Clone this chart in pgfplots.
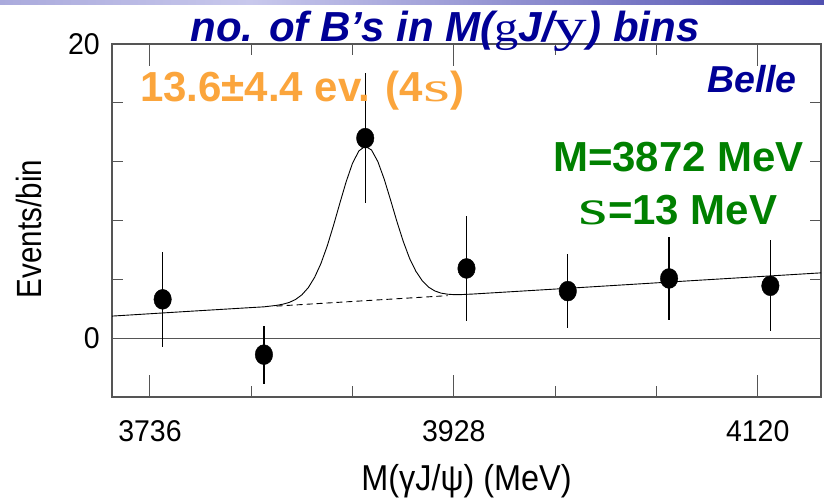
\documentclass[border=0pt]{standalone}
\usepackage{pgfplots}
\pgfplotsset{compat=1.18}
\usepackage{pgfplotstable}
\usepackage{graphicx}
\usepackage{fontspec}
\setmainfont{Liberation Sans}
\newfontfamily\ticksfont{Liberation Sans}[FakeStretch=0.95]
\newfontfamily\xlabfont{Liberation Sans}[FakeStretch=0.9]
\newfontfamily\ylabfont{Liberation Sans}[FakeStretch=0.845]
\newfontfamily\serifsym{Liberation Serif}
\definecolor{navy}{RGB}{0,0,150}
\definecolor{orangeann}{RGB}{251,165,60}
\definecolor{greenann}{RGB}{0,128,0}
\definecolor{axisgray}{RGB}{85,85,85}
\definecolor{barA}{RGB}{170,170,220}
\definecolor{barB}{RGB}{200,200,236}
\definecolor{barC}{RGB}{80,80,176}

% bin centres, events per bin, error
\pgfplotstableread{
x y err
3744 2.64 3.23
3808 -1.12 1.98
3872 13.60 4.40
3936 4.74 3.55
4000 3.20 2.52
4064 4.06 2.82
4128 3.56 3.10
}\points

% fit: background + signal
\pgfplotstableread{
x y
3712 1.50
3760 1.82
3800 2.08
3808 2.13
3812 2.18
3816 2.23
3820 2.31
3824 2.43
3828 2.63
3832 2.95
3836 3.43
3840 4.13
3844 5.07
3848 6.27
3852 7.68
3856 9.19
3860 10.65
3864 11.90
3868 12.73
3872 13.05
3876 12.79
3880 12.00
3884 10.81
3888 9.40
3892 7.94
3896 6.59
3900 5.43
3904 4.55
3908 3.91
3912 3.47
3916 3.21
3920 3.06
3924 2.99
3928 2.96
3932 2.96
3940 3.00
4000 3.39
4080 3.92
4160 4.44
}\fitcurve

% background under the peak
\pgfplotstableread{
x y
3816 2.18
3924 2.89
}\bgline

\begin{document}
\begin{tikzpicture}
\useasboundingbox (0,0) rectangle (824pt,500pt);
\fill[white] (0,0) rectangle (824pt,500pt);
\shade[left color=barA, right color=barB] (0,495pt) rectangle (250pt,500pt);
\shade[left color=barB, right color=barC] (250pt,495pt) rectangle (824pt,500pt);
\begin{axis}[
  at={(112pt,103pt)}, anchor=south west,
  scale only axis, width=709pt, height=353pt,
  xmin=3712, xmax=4160, ymin=-4, ymax=20,
  xtick={3736,3928,4120}, minor xtick={3800,3864,3992,4056},
  ytick={0,20}, minor ytick={4,8,12,16},
  ymajorgrids,
  major grid style={draw=axisgray, line width=1.3pt},
  tick align=inside,
  major tick length=22pt, minor tick length=11pt,
  tick style={draw=axisgray, line width=1pt},
  minor tick style={draw=axisgray, line width=1pt},
  axis line style={draw=axisgray, line width=1.3pt},
  /pgf/number format/assume math mode=true,
  /pgf/number format/set thousands separator={},
  ticklabel style={font=\ticksfont\fontsize{30}{31}\selectfont, text=black},
  xticklabel style={anchor=north, inner sep=0pt, yshift=-23pt},
  yticklabel style={anchor=east, inner sep=0pt, xshift=-12pt},
  xlabel={M(γJ/ψ) (MeV)},
  xlabel style={font=\xlabfont\fontsize{36}{38}\selectfont, at={(axis description cs:0.5,0)}, anchor=base, yshift=-93pt, inner sep=0pt},
  ylabel={Events/bin},
  ylabel style={font=\ylabfont\fontsize{35}{37}\selectfont, at={(axis description cs:0,0.476)}, rotate=0, anchor=base, yshift=70pt, inner sep=0pt},
]
\addplot[black, line width=0.9pt] table[x=x, y=y] {\fitcurve};
\addplot[black, line width=0.9pt, dash pattern=on 6pt off 4pt] table[x=x, y=y] {\bgline};
\addplot[only marks, mark=*, mark size=8.75pt, black,
  mark options={yscale=1.14},
  error bars/.cd, y dir=both, y explicit,
  error bar style={line width=1.2pt, black}, error mark=none]
  table[x=x, y=y, y error=err] {\points};
\end{axis}
\node[anchor=base, text=navy, font=\fontsize{42}{48}\selectfont\bfseries\itshape, inner sep=0pt]
  at (445pt,458pt) {no. of B’s in M({\serifsym\mdseries\upshape\scalebox{1.15}[1]{g}}J/{\serifsym\mdseries\upshape\scalebox{1.6}[1.1]{y}}) bins};
\node[anchor=base, text=orangeann, font=\fontsize{42}{48}\selectfont\bfseries, inner sep=0pt]
  at (302pt,398pt) {13.6±4.4 ev. (4{\serifsym\mdseries\scalebox{1.65}[1]{s}})};
\node[anchor=base, text=navy, font=\fontsize{37.5}{42}\selectfont\bfseries\itshape, inner sep=0pt]
  at (752pt,407pt) {Belle};
\node[anchor=base, text=greenann, font=\fontsize{42}{48}\selectfont\bfseries, inner sep=0pt]
  at (678.5pt,328.3pt) {M=3872 MeV};
\node[anchor=base, text=greenann, font=\fontsize{42}{48}\selectfont\bfseries, inner sep=0pt]
  at (678pt,275pt) {{\serifsym\mdseries\scalebox{1.8}[1.2]{s}}=13 MeV};
\end{tikzpicture}
\end{document}
